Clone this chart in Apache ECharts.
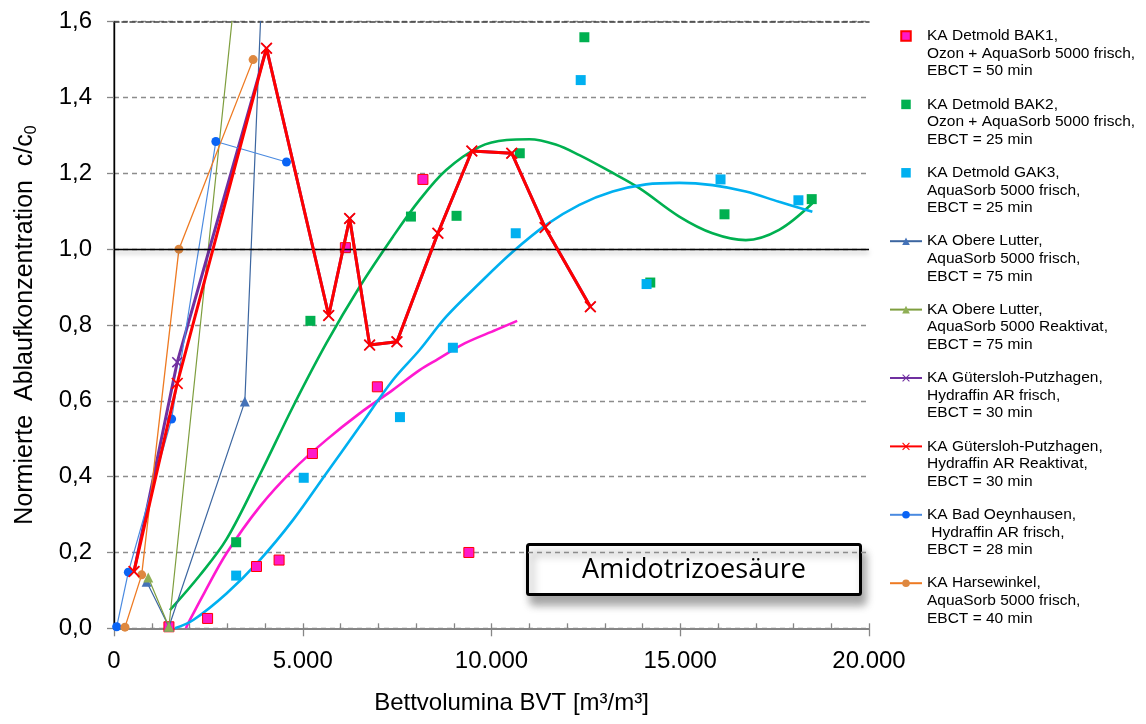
<!DOCTYPE html>
<html>
<head>
<meta charset="utf-8">
<script src="https://cdn.jsdelivr.net/npm/echarts@6/dist/echarts.min.js"></script>
<style>
html,body{margin:0;padding:0;background:#fff;}
#chart{width:1146px;height:724px;}
</style>
</head>
<body>
<div id="chart"></div>
<script>
// ---- tick labels ----
const xTickLabels = ['0', '5.000', '10.000', '15.000', '20.000'];
const yTickLabels = ['0,0', '0,2', '0,4', '0,6', '0,8', '1,0', '1,2', '1,4', '1,6'];

// ---- series names ----
const names = [
  'KA Detmold BAK1,\nOzon + AquaSorb 5000 frisch,\nEBCT = 50 min',
  'KA Detmold BAK2,\nOzon + AquaSorb 5000 frisch,\nEBCT = 25 min',
  'KA Detmold GAK3,\nAquaSorb 5000 frisch,\nEBCT = 25 min',
  'KA Obere Lutter,\nAquaSorb 5000 frisch,\nEBCT = 75 min',
  'KA Obere Lutter,\nAquaSorb 5000 Reaktivat,\nEBCT = 75 min',
  'KA Gütersloh-Putzhagen,\nHydraffin AR frisch,\nEBCT = 30 min',
  'KA Gütersloh-Putzhagen,\nHydraffin AR Reaktivat,\nEBCT = 30 min',
  'KA Bad Oeynhausen,\n Hydraffin AR frisch,\nEBCT = 28 min',
  'KA Harsewinkel,\nAquaSorb 5000 frisch,\nEBCT = 40 min'
];

// ---- scatter data (BVT, c/c0) ----
const bak1X = [1455, 2479, 3775, 4373, 5256, 6129, 6976, 8183, 9400];
const bak1Y = [0.004, 0.026, 0.163, 0.180, 0.461, 1.004, 0.637, 1.184, 0.200];
const bak2X = [3236, 5203, 7866, 9074, 10749, 12460, 14206, 16172, 18483];
const bak2Y = [0.227, 0.811, 1.086, 1.088, 1.253, 1.559, 0.912, 1.092, 1.132];
const gak3X = [3236, 5026, 7575, 8977, 10642, 12363, 14108, 16067, 18130];
const gak3Y = [0.139, 0.397, 0.557, 0.740, 1.042, 1.446, 0.908, 1.184, 1.129];

// ---- trend lines ----
const bak1TrendX = [1905, 2011, 2400, 2981, 3862, 4744, 5626, 6508, 7389, 8095, 8580, 9300, 10120, 10680];
const bak1TrendY = [0.0, 0.022, 0.095, 0.198, 0.321, 0.418, 0.497, 0.567, 0.629, 0.681, 0.71, 0.752, 0.787, 0.811];
const bak2TrendX = [1481, 2275, 2981, 3862, 4744, 5626, 6508, 7389, 8095, 8800, 9683, 10400, 11005, 11700, 12328, 13100, 13915, 14974, 15855, 16737, 17619, 18500];
const bak2TrendY = [0.048, 0.14, 0.235, 0.405, 0.585, 0.752, 0.901, 1.033, 1.130, 1.209, 1.27, 1.288, 1.29, 1.276, 1.248, 1.207, 1.161, 1.086, 1.042, 1.024, 1.051, 1.121];
const gak3TrendX = [1614, 2099, 2981, 3862, 4744, 5626, 6508, 7389, 8095, 8800, 9683, 10564, 11446, 12328, 13209, 14093, 14974, 15855, 16737, 17619, 18500];
const gak3TrendY = [0.0, 0.022, 0.092, 0.180, 0.286, 0.409, 0.532, 0.655, 0.734, 0.822, 0.910, 0.993, 1.064, 1.117, 1.152, 1.171, 1.175, 1.169, 1.152, 1.125, 1.099];

// ---- line series ----
const olFrischX = [865, 1455, 3466, 4100];
const olFrischY = [0.123, 0.004, 0.598, 2.13];
const olReaktX = [907, 1455, 3500];
const olReaktY = [0.134, 0.004, 1.96];
const gpFrischX = [530, 1675, 4040, 5688, 6243, 6772, 7495, 8580, 9479, 10537, 11420, 12619];
const gpFrischY = [0.15, 0.702, 1.530, 0.825, 1.081, 0.747, 0.756, 1.042, 1.259, 1.253, 1.057, 0.848];
const gpReaktX = [530, 1675, 4040, 5688, 6243, 6772, 7495, 8580, 9479, 10537, 11420, 12619];
const gpReaktY = [0.15, 0.646, 1.530, 0.825, 1.081, 0.747, 0.756, 1.042, 1.259, 1.253, 1.057, 0.848];
const badOX = [70, 380, 1526, 2698, 4569];
const badOY = [0.004, 0.148, 0.552, 1.284, 1.230];
const harseX = [291, 733, 1720, 3685];
const harseY = [0.003, 0.141, 1.0, 1.5];

const zip = (xs, ys) => xs.map((x, i) => [x, ys[i]]);
const crossPath = 'path://M0,1 L1,0 L5,4 L9,0 L10,1 L6,5 L10,9 L9,10 L5,6 L1,10 L0,9 L4,5 Z';
const squarePath = 'path://M0,0 L10,0 L10,10 L0,10 Z';
const FONT = '"Liberation Sans", Arial, sans-serif';

const chart = echarts.init(document.getElementById('chart'), null, {renderer: 'canvas'});

const trend = (xs, ys, color) => ({
  type: 'line', data: zip(xs, ys), smooth: 0.35, showSymbol: false, symbol: 'none',
  lineStyle: {color: color, width: 2.6}, z: 2, silent: true
});

const legendData = names.map((n, i) => i < 3 ? {name: n, icon: squarePath} : {name: n});

const option = {
  animation: false,
  backgroundColor: '#ffffff',
  textStyle: {fontFamily: FONT},
  grid: {left: 114, right: 277, top: 21.7, bottom: 95.7, containLabel: false},
  legend: {
    orient: 'vertical', left: 889, top: -8, padding: 0,
    itemWidth: 32, itemHeight: 9.5, itemGap: -19.6,
    symbolKeepAspect: true,
    selectedMode: false,
    data: legendData,
    formatter: n => '\n\n' + n,
    textStyle: {fontFamily: FONT, fontSize: 15.5, color: '#000', lineHeight: 17.6}
  },
  xAxis: [
    {
      type: 'value', min: 0, max: 20000, interval: 5000, position: 'bottom',
      axisLine: {show: true, lineStyle: {color: '#868686', width: 2}},
      axisTick: {show: true, inside: true, length: 5, lineStyle: {color: '#868686', width: 1.3}},
      minorTick: {show: true, splitNumber: 5, length: 5, lineStyle: {color: '#868686', width: 1.3}},
      axisLabel: {fontSize: 24, color: '#000', margin: 21, fontFamily: FONT,
        formatter: v => xTickLabels[Math.round(v / 5000)]},
      splitLine: {show: false},
      name: 'Bettvolumina BVT [m³/m³]', nameLocation: 'middle', nameGap: 63,
      nameTextStyle: {fontSize: 24, color: '#000', fontFamily: FONT, padding: [0, 0, 0, 40]}
    },
    {
      type: 'value', min: 0, max: 20000, interval: 5000, position: 'bottom',
      axisLine: {show: false},
      axisTick: {show: true, inside: false, length: 8, lineStyle: {color: '#868686', width: 1.3}},
      axisLabel: {show: false}, splitLine: {show: false}
    },
    {
      type: 'value', min: 0, max: 20000, position: 'top',
      axisLine: {show: true, lineStyle: {color: '#404040', width: 1.5, type: [5, 3]}},
      axisTick: {show: false}, axisLabel: {show: false}, splitLine: {show: false}
    }
  ],
  yAxis: [
    {
      type: 'value', min: 0, max: 1.6, interval: 0.2, position: 'left',
      axisLine: {show: true, lineStyle: {color: '#868686', width: 2}},
      axisTick: {show: true, inside: false, length: 7, lineStyle: {color: '#868686', width: 1.3}},
      axisLabel: {fontSize: 24, color: '#000', margin: 22, fontFamily: FONT,
        formatter: v => yTickLabels[Math.round(v / 0.2)]},
      splitLine: {show: true, lineStyle: {color: '#8c8c8c', width: 1.3, type: [5, 4]}},
      name: '{n|Normierte  Ablaufkonzentration  c/c}{s|0}',
      nameLocation: 'middle', nameGap: 74,
      nameTextStyle: {
        color: '#000', fontFamily: FONT,
        rich: {
          n: {fontSize: 25, lineHeight: 30, color: '#000', fontFamily: FONT},
          s: {fontSize: 16, lineHeight: 14, verticalAlign: 'bottom', color: '#000', fontFamily: FONT}
        }
      }
    },
    {
      type: 'value', min: 0, max: 1.6, position: 'right',
      axisLine: {show: true, lineStyle: {color: '#000', width: 1.4}},
      axisTick: {show: false}, axisLabel: {show: false}, splitLine: {show: false}
    }
  ],
  series: [
    trend(bak1TrendX, bak1TrendY, '#FF19D0'),
    trend(bak2TrendX, bak2TrendY, '#00B050'),
    trend(gak3TrendX, gak3TrendY, '#00B0F0'),
    {
      name: names[0], type: 'scatter', data: zip(bak1X, bak1Y), symbol: 'rect', symbolSize: 10, z: 3,
      itemStyle: {color: '#FF19C8', borderColor: '#FF0000', borderWidth: 1, opacity: 1},
      markLine: {
        silent: true, symbol: ['none', 'none'], label: {show: false},
        lineStyle: {color: '#000', width: 1.4, type: 'solid',
          shadowColor: 'rgba(0,0,0,0.35)', shadowBlur: 5, shadowOffsetY: 3},
        data: [{yAxis: 1.0}]
      }
    },
    {
      name: names[1], type: 'scatter', data: zip(bak2X, bak2Y), symbol: 'rect', symbolSize: 10, z: 3,
      itemStyle: {color: '#00B050', opacity: 1}
    },
    {
      name: names[2], type: 'scatter', data: zip(gak3X, gak3Y), symbol: 'rect', symbolSize: 10, z: 3,
      itemStyle: {color: '#00B0F0', opacity: 1}
    },
    {
      name: names[3], type: 'line', data: zip(olFrischX, olFrischY), symbol: 'triangle', symbolSize: 10, z: 4,
      lineStyle: {color: '#3C66A0', width: 1.2}, itemStyle: {color: '#4472B8'}
    },
    {
      name: names[4], type: 'line', data: zip(olReaktX, olReaktY), symbol: 'triangle', symbolSize: 10, z: 4,
      lineStyle: {color: '#7E9E3E', width: 1.2}, itemStyle: {color: '#8FAF55'}
    },
    {
      name: names[5], type: 'line', data: zip(gpFrischX, gpFrischY), symbol: crossPath, symbolSize: 11, z: 4,
      lineStyle: {color: '#7030A0', width: 3}, itemStyle: {color: '#7030A0'}
    },
    {
      name: names[6], type: 'line', data: zip(gpReaktX, gpReaktY), symbol: crossPath, symbolSize: 12, z: 5,
      lineStyle: {color: '#FF0000', width: 3}, itemStyle: {color: '#FF0000'}
    },
    {
      name: names[7], type: 'line', data: zip(badOX, badOY), symbol: 'circle', symbolSize: 9, z: 4,
      lineStyle: {color: '#4A8AE0', width: 1.2}, itemStyle: {color: '#0A64F5'}
    },
    {
      name: names[8], type: 'line', data: zip(harseX, harseY), symbol: 'circle', symbolSize: 9, z: 4,
      lineStyle: {color: '#EE7A22', width: 1.3}, itemStyle: {color: '#DE8840'}
    }
  ],
  graphic: [
    {
      type: 'group', left: 526, top: 543, z: 10,
      children: [
        {type: 'rect', shape: {x: 0, y: 0, width: 333, height: 50, r: 2},
          style: {fill: '#fff', stroke: '#000', lineWidth: 3,
            shadowColor: 'rgba(0,0,0,0.35)', shadowBlur: 8, shadowOffsetX: 4, shadowOffsetY: 9}},
        {type: 'text', x: 166.5, y: 26,
          style: {text: 'Amidotrizoesäure', fontSize: 27, fontFamily: '"Open Sans", "Liberation Sans", sans-serif',
            fill: '#000', align: 'center', verticalAlign: 'middle'}}
      ]
    }
  ]
};
chart.setOption(option);
</script>
</body>
</html>
